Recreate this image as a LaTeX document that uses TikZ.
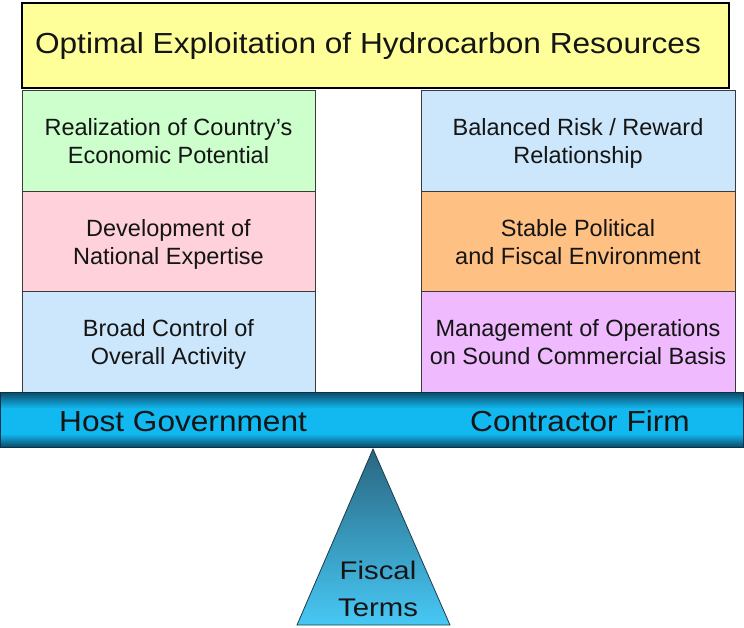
\documentclass[tikz,border=0pt]{standalone}
\usepackage{fontspec}
\setmainfont{Liberation Sans}
\newfontfamily\widesans[FakeStretch=1.09]{Liberation Sans}
\newfontfamily\widersans[FakeStretch=1.15]{Liberation Sans}

\definecolor{topyellow}{HTML}{FFFF99}
\definecolor{boxgreen}{HTML}{CCFFCC}
\definecolor{boxpink}{HTML}{FFD1DA}
\definecolor{boxblue}{HTML}{CCE7FB}
\definecolor{boxorange}{HTML}{FFC083}
\definecolor{boxviolet}{HTML}{F0BBFE}
\definecolor{beamdark}{HTML}{0B4A68}
\definecolor{beamlight}{HTML}{12B8F0}
\definecolor{pivottop}{HTML}{2A6680}
\definecolor{pivotbottom}{HTML}{47C8F5}
\definecolor{edgegray}{HTML}{3A3A3A}
\definecolor{ink}{HTML}{151515}

% lever: dark rims, bright core
\pgfdeclareverticalshading{lever}{100bp}{%
  color(0bp)=(beamdark); color(25bp)=(beamdark);
  color(37bp)=(beamlight); color(60bp)=(beamlight);
  color(75bp)=(beamdark); color(100bp)=(beamdark)}

\tikzset{
  goalbox/.style={draw=black, line width=1.6pt, fill=topyellow,
    minimum width=707pt, minimum height=85pt, inner sep=0pt},
  goaltext/.style={inner sep=0pt, text=ink,
    font=\widesans\fontsize{29}{34}\selectfont},
  aimbox/.style={draw=edgegray, line width=0.8pt, inner sep=0pt,
    align=center, text=ink, font=\fontsize{23.5}{28}\selectfont,
    text depth=0pt},
  leftaim/.style={aimbox, minimum width=293pt, minimum height=101pt},
  rightaim/.style={aimbox, minimum width=314pt, minimum height=101pt},
  partylabel/.style={inner sep=0pt, text=ink,
    font=\widesans\fontsize{29}{34}\selectfont},
  pivotlabel/.style={inner sep=0pt, align=center, text=ink,
    font=\widersans\fontsize{25.5}{37}\selectfont}
}

\begin{document}
\begin{tikzpicture}[x=1pt, y=-1pt]
  \useasboundingbox (0,0) rectangle (744,627);

  % overall objective
  \node[goalbox] (goal) at (375.5,45.5) {};
  \node[goaltext] (goaltitle) at (368,45.5)
    {Optimal Exploitation of Hydrocarbon Resources};

  % host government objectives
  \node[leftaim, fill=boxgreen]  (hg1) at (168.5,140.5)
    {Realization of Country’s\\Economic Potential};
  \node[leftaim, fill=boxpink]   (hg2) at (168.5,241.5)
    {Development of\\National Expertise};
  \node[leftaim, fill=boxblue]   (hg3) at (168.5,342)
    {Broad Control of\\Overall Activity};

  % contractor objectives
  \node[rightaim, fill=boxblue]   (cf1) at (578,140.5)
    {Balanced Risk / Reward\\Relationship};
  \node[rightaim, fill=boxorange] (cf2) at (578,241.5)
    {Stable Political\\and Fiscal Environment};
  \node[rightaim, fill=boxviolet] (cf3) at (578,342)
    {Management of Operations\\on Sound Commercial Basis};

  % lever
  \shade[shading=lever, draw=beamdark!70!black, line width=0.8pt]
    (0.5,392) rectangle (743.5,447);
  \node[partylabel, anchor=base west] (host) at (59,431) {Host Government};
  \node[partylabel, anchor=base west] (firm) at (470,431) {Contractor Firm};

  % pivot
  \shade[top color=pivottop, bottom color=pivotbottom,
         draw=pivottop!60!black, line width=0.8pt]
    (373,449) -- (450,625) -- (297,625) -- cycle;
  \node[pivotlabel] (terms) at (378,589) {Fiscal\\Terms};
\end{tikzpicture}
\end{document}
